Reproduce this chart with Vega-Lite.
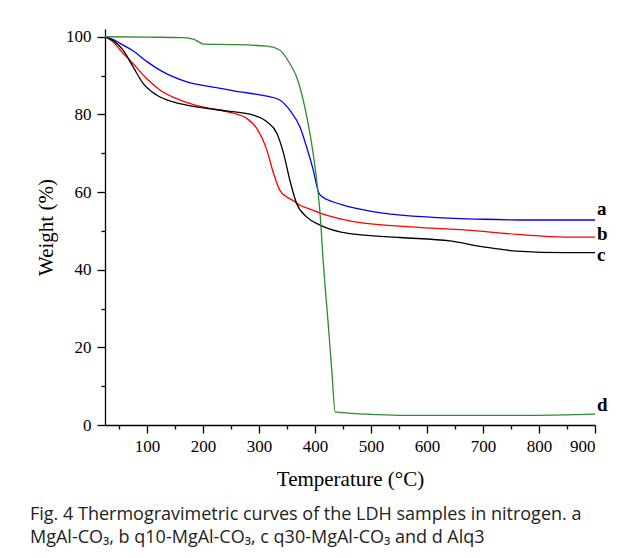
{
  "$schema": "https://vega.github.io/schema/vega-lite/v6.json",
  "width": 490,
  "height": 396,
  "autosize": "none",
  "padding": {"left": 105, "top": 29, "right": 34, "bottom": 133},
  "background": "white",
  "config": {"view": {"stroke": null}, "font": "Liberation Serif"},
  "title": {
    "text": ["Fig. 4  Thermogravimetric curves of the LDH samples in nitrogen. a", "MgAl-CO₃, b q10-MgAl-CO₃, c q30-MgAl-CO₃ and d Alq3"],
    "orient": "bottom",
    "anchor": "start",
    "frame": "group",
    "dx": -75,
    "offset": 17,
    "font": "Open Sans",
    "fontSize": 18,
    "fontWeight": "normal",
    "color": "#222222",
    "lineHeight": 23
  },
  "datasets": {
    "curves": [
      {"s": "a", "T": 25, "W": 100}, {"s": "a", "T": 40, "W": 99.3}, {"s": "a", "T": 52, "W": 98.3}, {"s": "a", "T": 75, "W": 96.4}, {"s": "a", "T": 100, "W": 93.6}, {"s": "a", "T": 123, "W": 91.4}, {"s": "a", "T": 171, "W": 88.4}, {"s": "a", "T": 218, "W": 87.0}, {"s": "a", "T": 266, "W": 85.8}, {"s": "a", "T": 314, "W": 84.7}, {"s": "a", "T": 337, "W": 83.7}, {"s": "a", "T": 355, "W": 81.1}, {"s": "a", "T": 373, "W": 76.8}, {"s": "a", "T": 385, "W": 71.6}, {"s": "a", "T": 397, "W": 65.6}, {"s": "a", "T": 406, "W": 60.1}, {"s": "a", "T": 410, "W": 59.1}, {"s": "a", "T": 432, "W": 57.5}, {"s": "a", "T": 462, "W": 56.2}, {"s": "a", "T": 521, "W": 54.6}, {"s": "a", "T": 611, "W": 53.5}, {"s": "a", "T": 700, "W": 53.0}, {"s": "a", "T": 789, "W": 52.8}, {"s": "a", "T": 900, "W": 52.8},
      {"s": "b", "T": 25, "W": 100}, {"s": "b", "T": 40, "W": 98.6}, {"s": "b", "T": 52, "W": 96.6}, {"s": "b", "T": 75, "W": 93.1}, {"s": "b", "T": 99, "W": 89.3}, {"s": "b", "T": 123, "W": 86.3}, {"s": "b", "T": 159, "W": 83.7}, {"s": "b", "T": 195, "W": 82.1}, {"s": "b", "T": 218, "W": 81.4}, {"s": "b", "T": 254, "W": 80.3}, {"s": "b", "T": 278, "W": 79.0}, {"s": "b", "T": 296, "W": 76.4}, {"s": "b", "T": 314, "W": 70.8}, {"s": "b", "T": 326, "W": 64.8}, {"s": "b", "T": 337, "W": 60.5}, {"s": "b", "T": 349, "W": 58.8}, {"s": "b", "T": 361, "W": 57.8}, {"s": "b", "T": 373, "W": 56.6}, {"s": "b", "T": 385, "W": 55.9}, {"s": "b", "T": 409, "W": 54.6}, {"s": "b", "T": 462, "W": 52.6}, {"s": "b", "T": 552, "W": 51.2}, {"s": "b", "T": 671, "W": 50.2}, {"s": "b", "T": 760, "W": 49.1}, {"s": "b", "T": 849, "W": 48.4}, {"s": "b", "T": 900, "W": 48.4},
      {"s": "c", "T": 25, "W": 100}, {"s": "c", "T": 40, "W": 99.0}, {"s": "c", "T": 57, "W": 96.6}, {"s": "c", "T": 75, "W": 92.3}, {"s": "c", "T": 93, "W": 88.0}, {"s": "c", "T": 117, "W": 85.0}, {"s": "c", "T": 147, "W": 83.2}, {"s": "c", "T": 195, "W": 81.8}, {"s": "c", "T": 242, "W": 80.9}, {"s": "c", "T": 290, "W": 79.8}, {"s": "c", "T": 314, "W": 78.1}, {"s": "c", "T": 332, "W": 75.1}, {"s": "c", "T": 344, "W": 69.9}, {"s": "c", "T": 355, "W": 63.1}, {"s": "c", "T": 367, "W": 57.1}, {"s": "c", "T": 385, "W": 53.6}, {"s": "c", "T": 409, "W": 51.5}, {"s": "c", "T": 462, "W": 49.3}, {"s": "c", "T": 552, "W": 48.3}, {"s": "c", "T": 641, "W": 47.4}, {"s": "c", "T": 700, "W": 45.9}, {"s": "c", "T": 760, "W": 44.8}, {"s": "c", "T": 849, "W": 44.4}, {"s": "c", "T": 900, "W": 44.4},
      {"s": "d", "T": 25, "W": 100}, {"s": "d", "T": 100, "W": 99.9}, {"s": "d", "T": 165, "W": 99.8}, {"s": "d", "T": 183, "W": 99.4}, {"s": "d", "T": 193, "W": 98.6}, {"s": "d", "T": 201, "W": 98.1}, {"s": "d", "T": 254, "W": 98.0}, {"s": "d", "T": 314, "W": 97.6}, {"s": "d", "T": 337, "W": 96.6}, {"s": "d", "T": 355, "W": 93.1}, {"s": "d", "T": 367, "W": 89.7}, {"s": "d", "T": 379, "W": 83.7}, {"s": "d", "T": 391, "W": 75.1}, {"s": "d", "T": 400, "W": 66.5}, {"s": "d", "T": 409, "W": 54.5}, {"s": "d", "T": 415, "W": 41.5}, {"s": "d", "T": 424, "W": 25.3}, {"s": "d", "T": 430, "W": 14.0}, {"s": "d", "T": 436, "W": 3.4}, {"s": "d", "T": 492, "W": 2.8}, {"s": "d", "T": 552, "W": 2.5}, {"s": "d", "T": 789, "W": 2.5}, {"s": "d", "T": 900, "W": 2.8}
    ],
    "labels": [
      {"s": "a", "T": 900, "W": 55.6},
      {"s": "b", "T": 900, "W": 49.1},
      {"s": "c", "T": 900, "W": 43.7},
      {"s": "d", "T": 900, "W": 5.1}
    ]
  },
  "resolve": {"axis": {"x": "independent", "y": "independent"}},
  "layer": [
    {
      "data": {"name": "curves"},
      "mark": {"type": "line", "strokeWidth": 1.3, "interpolate": "monotone"},
      "encoding": {
        "x": {
          "field": "T", "type": "quantitative",
          "scale": {"domain": [25, 900], "nice": false, "zero": false},
          "axis": {
            "title": "Temperature (°C)", "values": [100, 200, 300, 400, 500, 600, 700, 800, 900],
            "grid": false, "tickSize": 8, "tickColor": "black", "domainColor": "black", "domainWidth": 1.3, "tickWidth": 1.3,
            "labelFont": "Liberation Serif", "labelFontSize": 17, "labelColor": "black", "labelPadding": 5,
            "titleFont": "Liberation Serif", "titleFontSize": 21, "titleFontWeight": "normal", "titleColor": "black", "titlePadding": 14,
            "orient": "bottom"
          }
        },
        "y": {
          "field": "W", "type": "quantitative",
          "scale": {"domain": [0, 102], "nice": false},
          "axis": {
            "title": "Weight (%)", "values": [0, 20, 40, 60, 80, 100],
            "grid": false, "tickSize": 8, "tickColor": "black", "domainColor": "black", "domainWidth": 1.3, "tickWidth": 1.3,
            "labelFont": "Liberation Serif", "labelFontSize": 17, "labelColor": "black", "labelPadding": 6,
            "titleFont": "Liberation Serif", "titleFontSize": 21, "titleFontWeight": "normal", "titleColor": "black", "titlePadding": 9,
            "orient": "left"
          }
        },
        "color": {
          "field": "s", "type": "nominal",
          "scale": {"domain": ["a", "b", "c", "d"], "range": ["#0000ff", "#ff0000", "#000000", "#2e8b2e"]},
          "legend": null
        }
      }
    },
    {
      "data": {"name": "labels"},
      "mark": {"type": "text", "align": "left", "baseline": "middle", "dx": 2, "font": "Liberation Serif", "fontSize": 19, "fontWeight": "bold", "color": "black"},
      "encoding": {
        "x": {"field": "T", "type": "quantitative", "axis": {"orient": "bottom", "values": [50, 150, 250, 350, 450, 550, 650, 750, 850], "labels": false, "title": null, "grid": false, "domain": false, "tickSize": 4, "tickColor": "black", "tickWidth": 1.3}},
        "y": {"field": "W", "type": "quantitative", "axis": {"orient": "left", "values": [10, 30, 50, 70, 90], "labels": false, "title": null, "grid": false, "domain": false, "tickSize": 4, "tickColor": "black", "tickWidth": 1.3}},
        "text": {"field": "s", "type": "nominal"}
      }
    }
  ]
}
